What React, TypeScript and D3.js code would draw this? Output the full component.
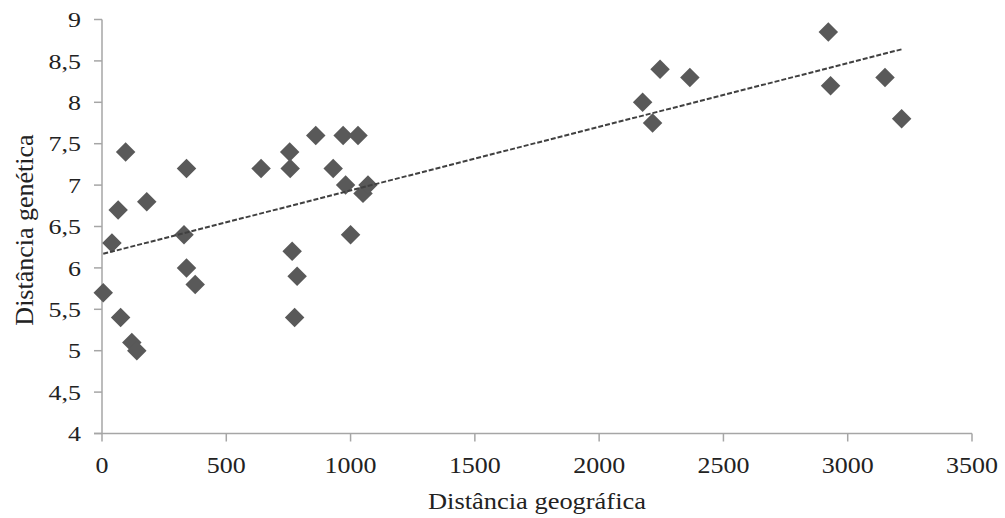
import React from "react";
import * as d3 from "d3";

const geoDist = [5, 40, 65, 75, 95, 120, 140, 180, 330, 340, 340, 375, 640, 755, 757, 765, 775, 785, 860, 930, 970, 980, 1000, 1030, 1050, 1070, 2175, 2215, 2245, 2365, 2922, 2931, 3150, 3217];
const genDist = [5.7, 6.3, 6.7, 5.4, 7.4, 5.1, 5.0, 6.8, 6.4, 7.2, 6.0, 5.8, 7.2, 7.4, 7.2, 6.2, 5.4, 5.9, 7.6, 7.2, 7.6, 7.0, 6.4, 7.6, 6.9, 7.0, 8.0, 7.75, 8.4, 8.3, 8.85, 8.2, 8.3, 7.8];
// linear trendline: value at first and last x
const trendStart = 6.17;
const trendEnd = 8.64;
const xTicks = [0, 500, 1000, 1500, 2000, 2500, 3000, 3500];
const yTicks = [4, 4.5, 5, 5.5, 6, 6.5, 7, 7.5, 8, 8.5, 9];
const xTitle = "Distância geográfica";
const yTitle = "Distância genética";

const W = 1005;
const H = 518;
const left = 102;
const right = 972;
const top = 19.5;
const bottom = 433.5;
const axisColor = "#a6a6a6";
const textColor = "#222";
const font = "'Liberation Serif', 'Times New Roman', serif";

export default function App() {
  const x = d3.scaleLinear().domain([0, 3500]).range([left, right]);
  const y = d3.scaleLinear().domain([4, 9]).range([bottom, top]);

  const x0 = d3.min(geoDist) as number;
  const x1 = d3.max(geoDist) as number;
  const trend = d3
    .line<[number, number]>()
    .x((d) => x(d[0]))
    .y((d) => y(d[1]))([
      [x0, trendStart],
      [x1, trendEnd],
    ]);

  const diamond = d3.symbol().type(d3.symbolDiamond2).size(242)();

  const fmt = (v: number) => String(v).replace(".", ",");

  return (
    <svg
      width={W}
      height={H}
      style={{ position: "absolute", left: 0, top: 0, background: "#fff" }}
      fontFamily={font}
    >
      {/* axes */}
      <line x1={left} x2={left} y1={top} y2={bottom} stroke={axisColor} strokeWidth={1.5} />
      <line x1={left - 8} x2={right} y1={bottom} y2={bottom} stroke={axisColor} strokeWidth={1.5} />
      {yTicks.map((t) => (
        <g key={"y" + t}>
          <line x1={left - 8} x2={left} y1={y(t)} y2={y(t)} stroke={axisColor} strokeWidth={1.5} />
          <text
            transform={`translate(81,${y(t)}) scale(1.18,1)`}
            dy="0.35em"
            textAnchor="end"
            fontSize={22}
            fill={textColor}
          >
            {fmt(t)}
          </text>
        </g>
      ))}
      {xTicks.map((t) => (
        <g key={"x" + t}>
          <line x1={x(t)} x2={x(t)} y1={bottom} y2={bottom + 8} stroke={axisColor} strokeWidth={1.5} />
          <text
            transform={`translate(${x(t)},473) scale(1.13,1)`}
            textAnchor="middle"
            fontSize={23}
            fill={textColor}
          >
            {t}
          </text>
        </g>
      ))}
      <text
        transform={`translate(537,509) scale(1.15,1)`}
        textAnchor="middle"
        fontSize={23}
        fill={textColor}
      >
        {xTitle}
      </text>
      <text transform={`translate(33,230) rotate(-90)`} textAnchor="middle" fontSize={26} fill={textColor}>
        {yTitle}
      </text>
      {/* points */}
      {geoDist.map((g, i) => (
        <path key={"p" + i} d={diamond as string} transform={`translate(${x(g)},${y(genDist[i])})`} fill="#595959" />
      ))}
      {/* trend line */}
      <path d={trend as string} fill="none" stroke="#404040" strokeWidth={2} strokeDasharray="5 2" />
    </svg>
  );
}
